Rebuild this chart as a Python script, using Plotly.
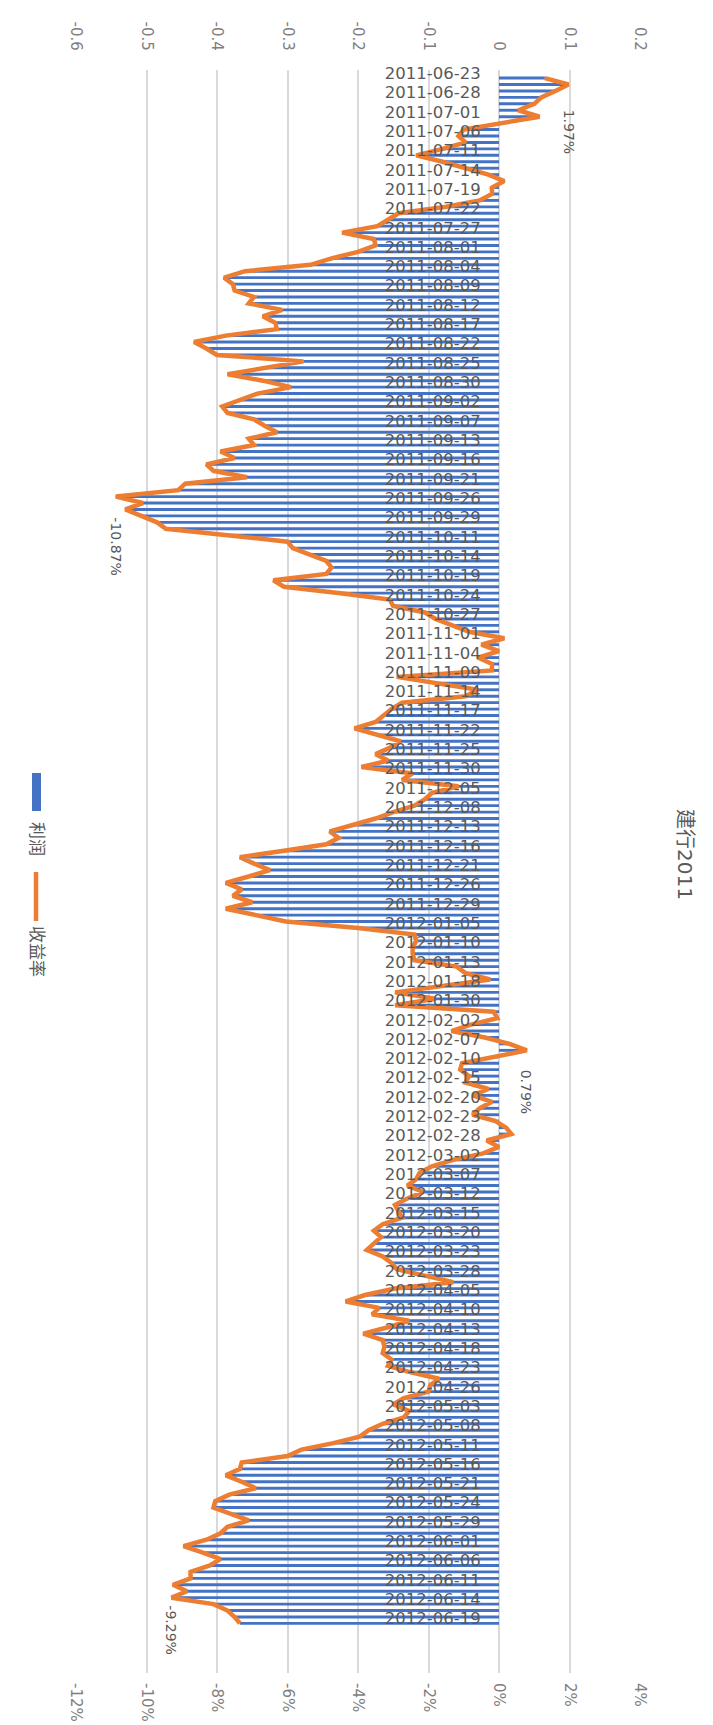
import plotly.graph_objects as go

DATES = [
    "2011-06-23", "2011-06-24", "2011-06-27", "2011-06-28", "2011-06-29", "2011-06-30",
    "2011-07-01", "2011-07-04", "2011-07-05", "2011-07-06", "2011-07-07", "2011-07-08",
    "2011-07-11", "2011-07-12", "2011-07-13", "2011-07-14", "2011-07-15", "2011-07-18",
    "2011-07-19", "2011-07-20", "2011-07-21", "2011-07-22", "2011-07-25", "2011-07-26",
    "2011-07-27", "2011-07-28", "2011-07-29", "2011-08-01", "2011-08-02", "2011-08-03",
    "2011-08-04", "2011-08-05", "2011-08-08", "2011-08-09", "2011-08-10", "2011-08-11",
    "2011-08-12", "2011-08-15", "2011-08-16", "2011-08-17", "2011-08-18", "2011-08-19",
    "2011-08-22", "2011-08-23", "2011-08-24", "2011-08-25", "2011-08-26", "2011-08-29",
    "2011-08-30", "2011-08-31", "2011-09-01", "2011-09-02", "2011-09-05", "2011-09-06",
    "2011-09-07", "2011-09-08", "2011-09-09", "2011-09-13", "2011-09-14", "2011-09-15",
    "2011-09-16", "2011-09-19", "2011-09-20", "2011-09-21", "2011-09-22", "2011-09-23",
    "2011-09-26", "2011-09-27", "2011-09-28", "2011-09-29", "2011-09-30", "2011-10-10",
    "2011-10-11", "2011-10-12", "2011-10-13", "2011-10-14", "2011-10-17", "2011-10-18",
    "2011-10-19", "2011-10-20", "2011-10-21", "2011-10-24", "2011-10-25", "2011-10-26",
    "2011-10-27", "2011-10-28", "2011-10-31", "2011-11-01", "2011-11-02", "2011-11-03",
    "2011-11-04", "2011-11-07", "2011-11-08", "2011-11-09", "2011-11-10", "2011-11-11",
    "2011-11-14", "2011-11-15", "2011-11-16", "2011-11-17", "2011-11-18", "2011-11-21",
    "2011-11-22", "2011-11-23", "2011-11-24", "2011-11-25", "2011-11-28", "2011-11-29",
    "2011-11-30", "2011-12-01", "2011-12-02", "2011-12-05", "2011-12-06", "2011-12-07",
    "2011-12-08", "2011-12-09", "2011-12-12", "2011-12-13", "2011-12-14", "2011-12-15",
    "2011-12-16", "2011-12-19", "2011-12-20", "2011-12-21", "2011-12-22", "2011-12-23",
    "2011-12-26", "2011-12-27", "2011-12-28", "2011-12-29", "2011-12-30", "2012-01-04",
    "2012-01-05", "2012-01-06", "2012-01-09", "2012-01-10", "2012-01-11", "2012-01-12",
    "2012-01-13", "2012-01-16", "2012-01-17", "2012-01-18", "2012-01-19", "2012-01-20",
    "2012-01-30", "2012-01-31", "2012-02-01", "2012-02-02", "2012-02-03", "2012-02-06",
    "2012-02-07", "2012-02-08", "2012-02-09", "2012-02-10", "2012-02-13", "2012-02-14",
    "2012-02-15", "2012-02-16", "2012-02-17", "2012-02-20", "2012-02-21", "2012-02-22",
    "2012-02-23", "2012-02-24", "2012-02-27", "2012-02-28", "2012-02-29", "2012-03-01",
    "2012-03-02", "2012-03-05", "2012-03-06", "2012-03-07", "2012-03-08", "2012-03-09",
    "2012-03-12", "2012-03-13", "2012-03-14", "2012-03-15", "2012-03-16", "2012-03-19",
    "2012-03-20", "2012-03-21", "2012-03-22", "2012-03-23", "2012-03-26", "2012-03-27",
    "2012-03-28", "2012-03-29", "2012-03-30", "2012-04-05", "2012-04-06", "2012-04-09",
    "2012-04-10", "2012-04-11", "2012-04-12", "2012-04-13", "2012-04-16", "2012-04-17",
    "2012-04-18", "2012-04-19", "2012-04-20", "2012-04-23", "2012-04-24", "2012-04-25",
    "2012-04-26", "2012-04-27", "2012-05-02", "2012-05-03", "2012-05-04", "2012-05-07",
    "2012-05-08", "2012-05-09", "2012-05-10", "2012-05-11", "2012-05-14", "2012-05-15",
    "2012-05-16", "2012-05-17", "2012-05-18", "2012-05-21", "2012-05-22", "2012-05-23",
    "2012-05-24", "2012-05-25", "2012-05-28", "2012-05-29", "2012-05-30", "2012-05-31",
    "2012-06-01", "2012-06-04", "2012-06-05", "2012-06-06", "2012-06-07", "2012-06-08",
    "2012-06-11", "2012-06-12", "2012-06-13", "2012-06-14", "2012-06-15", "2012-06-18",
    "2012-06-19",
]

# 收益率 (%), one per date
RETURN_PCT = [
    1.30, 1.97, 1.60, 1.20, 1.00, 0.55, 1.15, 0.10, -1.00, -1.15,
    -0.95, -1.60, -2.35, -1.60, -0.90, -0.30, 0.15, -0.20, -0.20, -0.55,
    -1.50, -2.85, -3.15, -3.45, -4.45, -3.55, -3.50, -4.00, -4.75, -5.35,
    -7.20, -7.80, -7.55, -7.50, -6.95, -7.10, -6.15, -6.70, -6.35, -6.30,
    -7.75, -8.65, -8.30, -8.00, -5.55, -6.70, -7.70, -6.70, -5.90, -6.85,
    -7.40, -7.85, -7.70, -6.95, -6.65, -6.30, -7.10, -6.95, -7.90, -7.50,
    -8.30, -8.10, -7.15, -8.90, -9.10, -10.87, -10.10, -10.60, -10.15, -9.70,
    -9.45, -7.70, -6.00, -5.85, -5.40, -4.90, -4.75, -4.90, -6.40, -6.10,
    -4.50, -3.10, -3.00, -2.10, -1.80, -1.30, -0.85, 0.15, -0.50, 0.00,
    -0.60, -0.20, -0.20, -2.90, -1.70, -0.60, -0.95, -2.75, -3.05, -3.30,
    -3.50, -4.10, -3.45, -2.80, -3.10, -3.50, -3.15, -3.90, -2.45, -2.75,
    -1.15, -1.90, -2.10, -2.40, -3.00, -3.50, -4.15, -4.80, -4.55,
    -4.90, -6.10, -7.35, -6.95, -6.50, -7.10, -7.75, -7.30, -7.55, -7.00,
    -7.75, -6.90, -6.05, -4.00, -2.40, -2.35, -2.45, -2.45, -2.40, -1.20,
    -0.95, -0.25, -1.50, -2.95, -1.80, -2.95, -0.15, -0.05, -0.80, -1.35,
    -0.40, 0.30, 0.79, -0.20, -1.05, -1.10, -0.85, -0.95, -0.30, -0.75,
    -0.20, -0.55, -0.75, -0.10, 0.20, 0.35, -0.35, 0.00, -0.45, -1.30,
    -1.90, -2.25, -2.35, -2.60, -2.15, -2.60, -2.95, -2.85, -2.75, -3.30,
    -3.55, -3.35, -3.55, -3.75, -3.30, -3.05, -2.90, -2.10, -1.30, -2.95,
    -3.80, -4.35, -3.40, -3.60, -2.55, -3.15, -3.85, -3.30, -3.25, -3.30,
    -3.05, -3.15, -2.50, -1.70, -1.95, -2.00, -2.70, -3.00, -2.55, -2.70,
    -3.30, -3.70, -3.95, -4.70, -5.60, -6.00, -7.30, -7.35, -7.75, -7.30,
    -6.90, -7.65, -8.05, -8.10, -7.60, -7.10, -7.70, -7.90, -8.30, -8.95,
    -8.40, -7.90, -8.20, -8.75, -8.75, -9.25, -8.85, -9.29, -8.10, -7.70,
    -7.50, -7.35,
]

# 利润, one per date
PROFIT = [
    0.065, 0.0985, 0.08, 0.06, 0.05, 0.0275, 0.0575, 0.005, -0.05, -0.0575,
    -0.0475, -0.08, -0.1175, -0.08, -0.045, -0.015, 0.0075, -0.01, -0.01, -0.0275,
    -0.075, -0.1425, -0.1575, -0.1725, -0.2225, -0.1775, -0.175, -0.2, -0.2375, -0.2675,
    -0.36, -0.39, -0.3775, -0.375, -0.3475, -0.355, -0.3075, -0.335, -0.3175, -0.315,
    -0.3875, -0.4325, -0.415, -0.4, -0.2775, -0.335, -0.385, -0.335, -0.295, -0.3425,
    -0.37, -0.3925, -0.385, -0.3475, -0.3325, -0.315, -0.355, -0.3475, -0.395, -0.375,
    -0.415, -0.405, -0.3575, -0.445, -0.455, -0.5435, -0.505, -0.53, -0.5075, -0.485,
    -0.4725, -0.385, -0.3, -0.2925, -0.27, -0.245, -0.2375, -0.245, -0.32, -0.305,
    -0.225, -0.155, -0.15, -0.105, -0.09, -0.065, -0.0425, 0.0075, -0.025, 0.0,
    -0.03, -0.01, -0.01, -0.145, -0.085, -0.03, -0.0475, -0.1375, -0.1525, -0.165,
    -0.175, -0.205, -0.1725, -0.14, -0.155, -0.175, -0.1575, -0.195, -0.1225, -0.1375,
    -0.0575, -0.095, -0.105, -0.12, -0.15, -0.175, -0.2075, -0.24, -0.2275,
    -0.245, -0.305, -0.3675, -0.3475, -0.325, -0.355, -0.3875, -0.365, -0.3775, -0.35,
    -0.3875, -0.345, -0.3025, -0.2, -0.12, -0.1175, -0.1225, -0.1225, -0.12, -0.06,
    -0.0475, -0.0125, -0.075, -0.1475, -0.09, -0.1475, -0.0075, -0.0025, -0.04, -0.0675,
    -0.02, 0.015, 0.0395, -0.01, -0.0525, -0.055, -0.0425, -0.0475, -0.015, -0.0375,
    -0.01, -0.0275, -0.0375, -0.005, 0.01, 0.0175, -0.0175, 0.0, -0.0225, -0.065,
    -0.095, -0.1125, -0.1175, -0.13, -0.1075, -0.13, -0.1475, -0.1425, -0.1375, -0.165,
    -0.1775, -0.1675, -0.1775, -0.1875, -0.165, -0.1525, -0.145, -0.105, -0.065, -0.1475,
    -0.19, -0.2175, -0.17, -0.18, -0.1275, -0.1575, -0.1925, -0.165, -0.1625, -0.165,
    -0.1525, -0.1575, -0.125, -0.085, -0.0975, -0.1, -0.135, -0.15, -0.1275, -0.135,
    -0.165, -0.185, -0.1975, -0.235, -0.28, -0.3, -0.365, -0.3675, -0.3875, -0.365,
    -0.345, -0.3825, -0.4025, -0.405, -0.38, -0.355, -0.385, -0.395, -0.415, -0.4475,
    -0.42, -0.395, -0.41, -0.4375, -0.4375, -0.4625, -0.4425, -0.4645, -0.405, -0.385,
    -0.375, -0.3675,
]

TOP_TICKS = [-0.6, -0.5, -0.4, -0.3, -0.2, -0.1, 0, 0.1, 0.2]
TOP_TICK_TEXT = ["-0.6", "-0.5", "-0.4", "-0.3", "-0.2", "-0.1", "0", "0.1", "0.2"]
BOTTOM_TICKS = [-12, -10, -8, -6, -4, -2, 0, 2, 4]
BOTTOM_TICK_TEXT = ["-12%", "-10%", "-8%", "-6%", "-4%", "-2%", "0%", "2%", "4%"]

LABEL_INDEX = [1, 65, 151, 236]
LABEL_TEXT = ["1.97%", "-10.87%", "0.79%", "-9.29%"]
LABEL_SHIFT = [7.4, 7.7, 6.4, 5.0]

TITLE = "建行2011"
SERIES_BAR = "利润"
SERIES_LINE = "收益率"

BLUE = "#4472C4"
ORANGE = "#ED7D31"
GRID = "#D9D9D9"
TEXT = "#595959"
AXTEXT = "#7F7F7F"
FONT = "DejaVu Sans, Noto Sans CJK SC, sans-serif"

W, H = 713, 1725
ML, MR, MT, MB = 68, 81, 62, 60
LABEL_LIFT = 0.75  # date labels sit slightly above their bars

N = len(DATES)
POS = list(range(N))


def px(x):
    return (x - ML) / (W - ML - MR)


def py(y):
    return 1 - (y - MT) / (H - MT - MB)


fig = go.Figure()
fig.add_trace(go.Bar(
    y=POS, x=PROFIT, orientation="h", name=SERIES_BAR,
    marker=dict(color=BLUE, line=dict(width=0)), width=0.45,
    customdata=DATES, xaxis="x", yaxis="y",
))
fig.add_trace(go.Scatter(
    y=POS, x=RETURN_PCT, mode="lines", name=SERIES_LINE,
    line=dict(color=ORANGE, width=4.5), customdata=DATES, xaxis="x2", yaxis="y",
))

annotations = []
for idx, txt, sh in zip(LABEL_INDEX, LABEL_TEXT, LABEL_SHIFT):
    annotations.append(dict(
        x=RETURN_PCT[idx], y=POS[idx] + sh, xref="x2", yref="y", text=txt,
        showarrow=False, textangle=90, font=dict(size=14, color=TEXT, family=FONT),
        xanchor="center", yanchor="middle",
    ))

annotations.append(dict(
    x=px(677), y=py(846), xref="paper", yref="paper", text=TITLE, showarrow=False,
    textangle=90, font=dict(size=20, color=TEXT, family=FONT),
    xanchor="center", yanchor="middle",
))
annotations.append(dict(
    x=px(29), y=py(831), xref="paper", yref="paper", text=SERIES_BAR, showarrow=False,
    textangle=90, font=dict(size=17, color=TEXT, family=FONT),
    xanchor="center", yanchor="middle",
))
annotations.append(dict(
    x=px(29), y=py(943), xref="paper", yref="paper", text=SERIES_LINE, showarrow=False,
    textangle=90, font=dict(size=17, color=TEXT, family=FONT),
    xanchor="center", yanchor="middle",
))

shapes = [
    dict(type="rect", xref="paper", yref="paper",
         x0=px(24), x1=px(33), y0=py(765), y1=py(803),
         fillcolor=BLUE, line=dict(width=0)),
    dict(type="line", xref="paper", yref="paper",
         x0=px(28), x1=px(28), y0=py(864), y1=py(913),
         line=dict(color=ORANGE, width=4.5)),
]

fig.update_layout(
    width=W, height=H,
    margin=dict(l=ML, r=MR, t=MT, b=MB, pad=0, autoexpand=False),
    paper_bgcolor="white", plot_bgcolor="white",
    showlegend=False,
    font=dict(family=FONT, color=TEXT),
    xaxis=dict(
        side="top", range=[-0.6, 0.2], tickvals=TOP_TICKS, ticktext=TOP_TICK_TEXT,
        tickangle=90, showgrid=True, gridcolor=GRID, gridwidth=1.5, zeroline=False,
        showline=False, ticks="outside", ticklen=13, tickcolor="rgba(0,0,0,0)",
        tickfont=dict(size=15, color=AXTEXT), anchor="y", automargin=False,
    ),
    xaxis2=dict(
        side="bottom", overlaying="x", range=[-12, 4], tickvals=BOTTOM_TICKS,
        ticktext=BOTTOM_TICK_TEXT, tickangle=90, showgrid=False, zeroline=False,
        showline=False, ticks="outside", ticklen=6, tickcolor="rgba(0,0,0,0)",
        tickfont=dict(size=15, color=AXTEXT), anchor="y", automargin=False,
    ),
    yaxis=dict(
        type="linear", range=[247.7, -1.25],
        tickvals=[p - LABEL_LIFT for p in POS[::3]], ticktext=DATES[::3],
        anchor="free", position=px(491), side="left", showgrid=False,
        zeroline=False, showline=False, ticks="outside", ticklen=15,
        tickcolor="rgba(0,0,0,0)", tickfont=dict(size=16.5, color=TEXT),
        automargin=False,
    ),
    annotations=annotations,
    shapes=shapes,
)

fig.write_html("out.html")
